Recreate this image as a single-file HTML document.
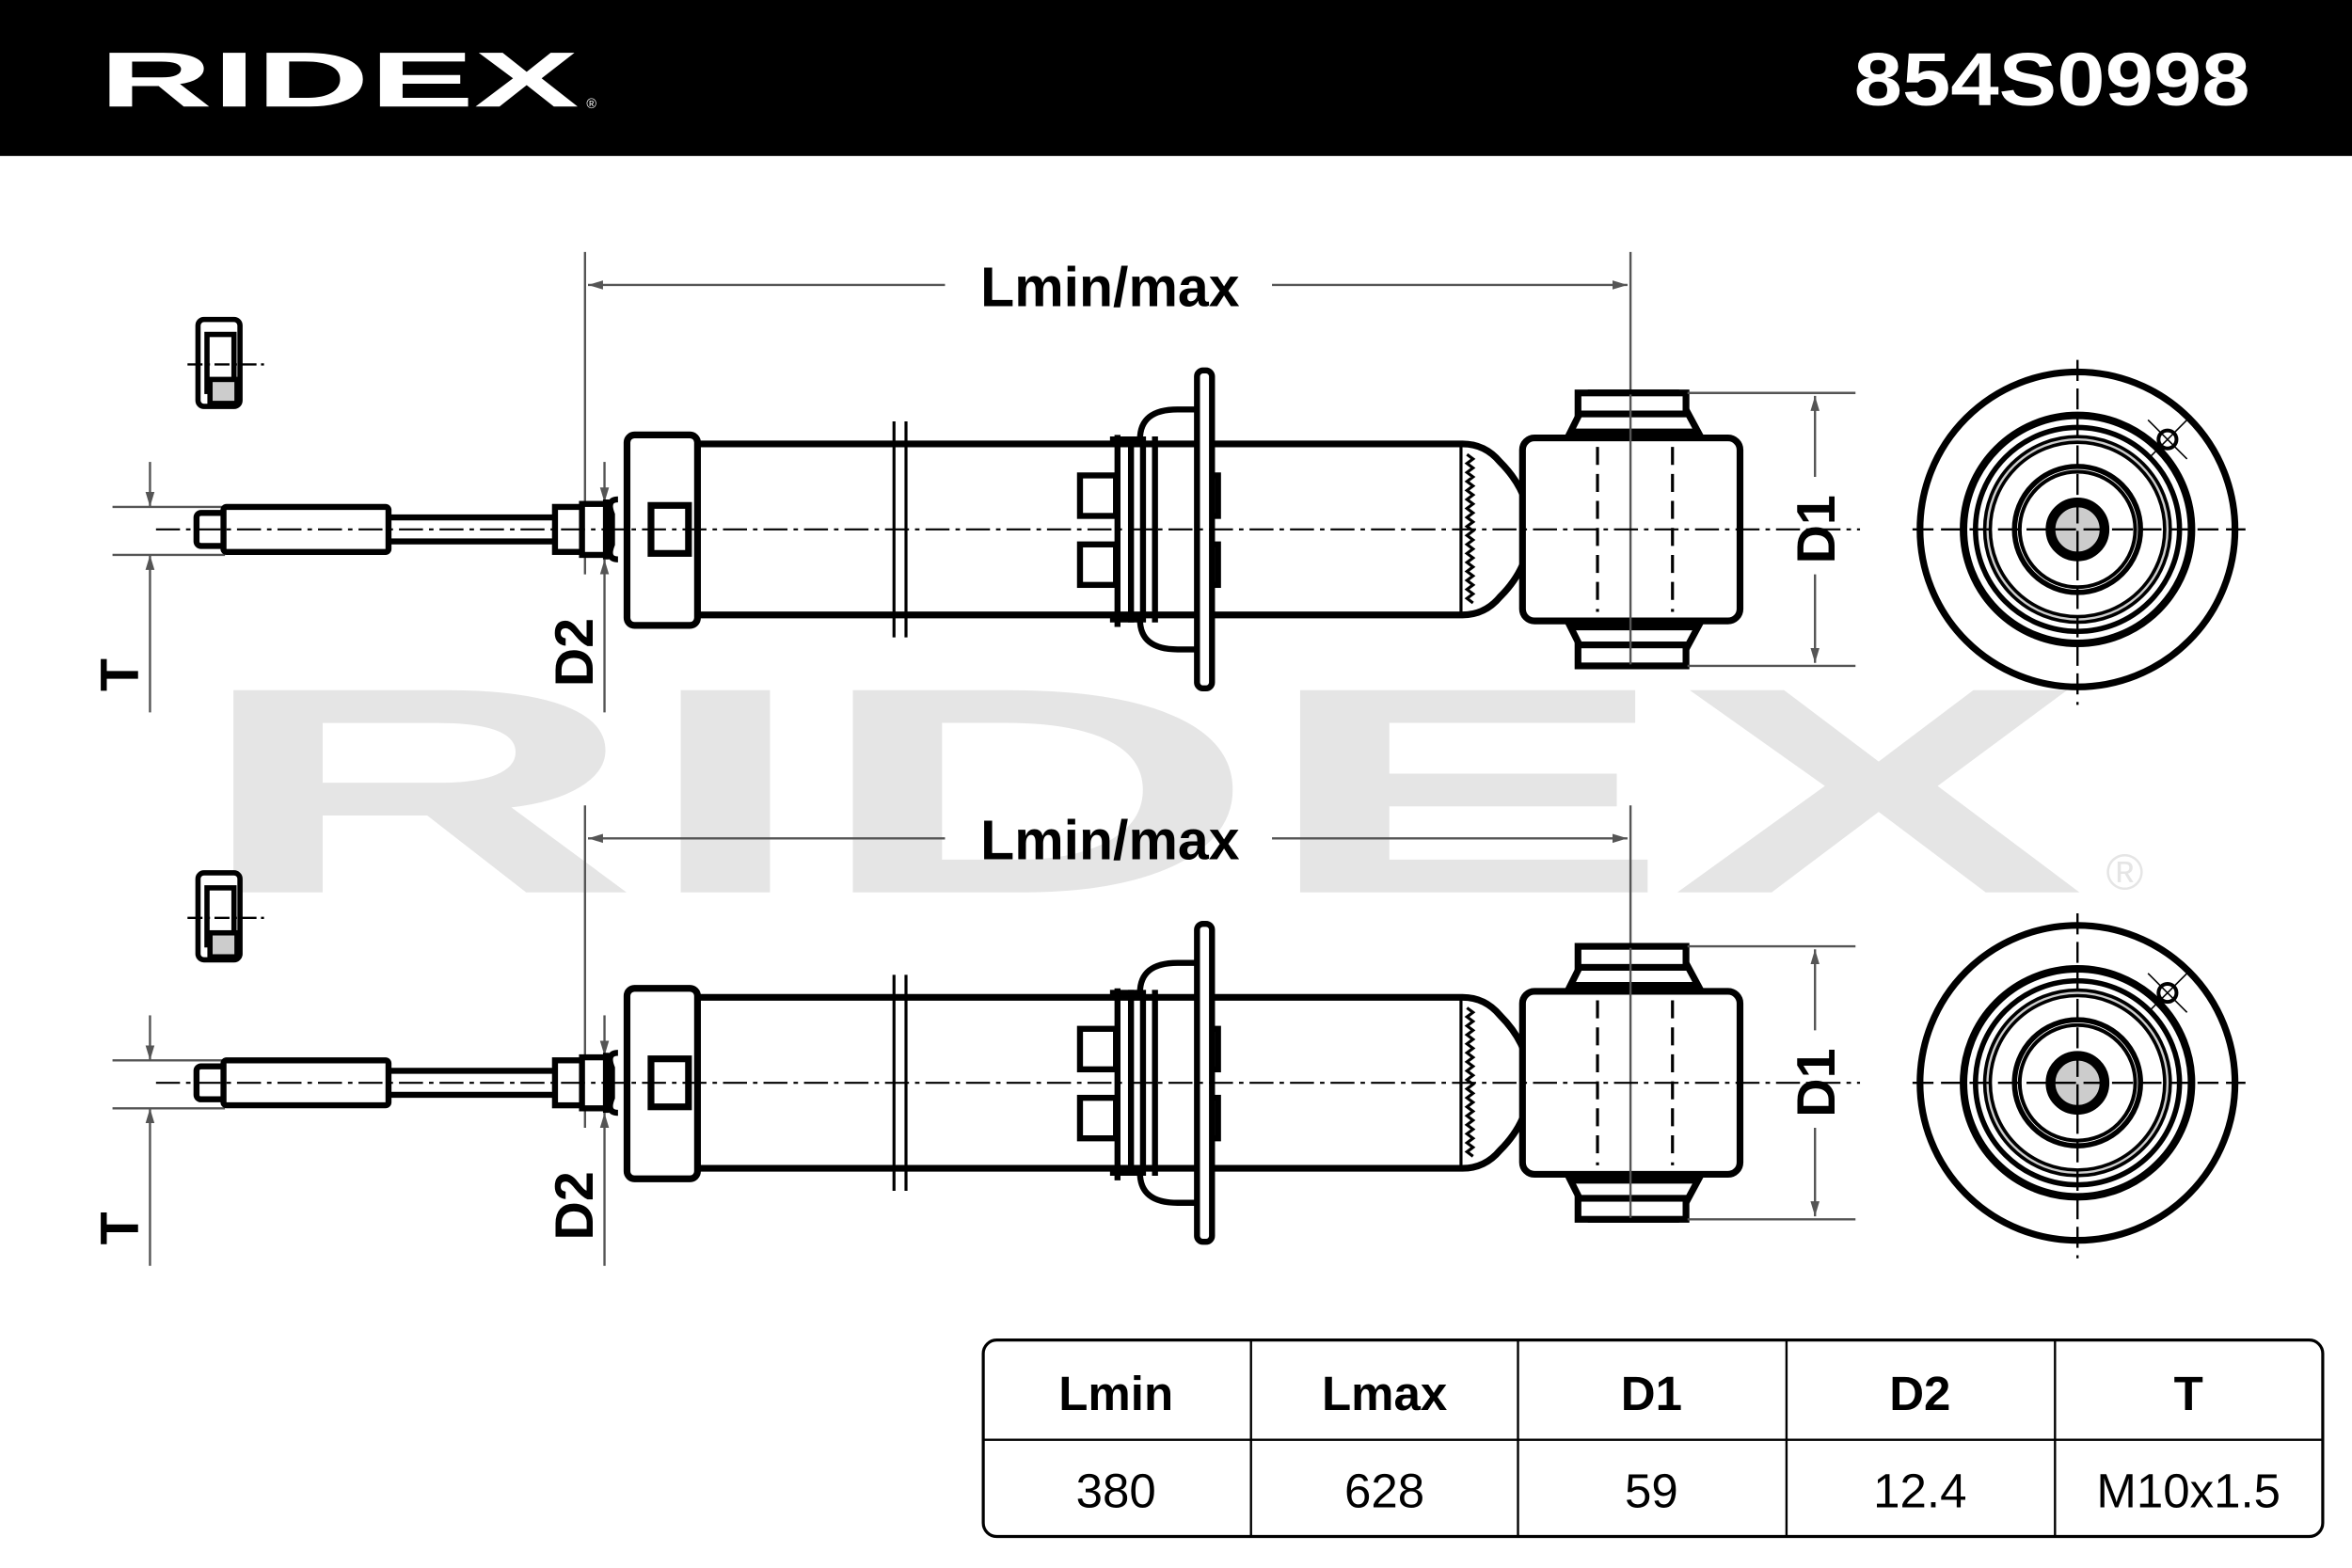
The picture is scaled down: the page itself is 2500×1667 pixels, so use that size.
<!DOCTYPE html>
<html><head><meta charset="utf-8"><style>
html,body{margin:0;padding:0;background:#fff;overflow:hidden;width:2500px;height:1667px;}
svg{display:block;}
text{font-family:"Liberation Sans",sans-serif;}
</style></head><body>
<svg width="2500" height="1667" viewBox="0 0 1568 1045.5" preserveAspectRatio="none" xmlns="http://www.w3.org/2000/svg">
<defs>
<marker id="ar" viewBox="0 0 10 10" refX="10" refY="5" markerWidth="10" markerHeight="10" markerUnits="userSpaceOnUse" orient="auto-start-reverse"><path d="M0,2 L10,5 L0,8 Z" fill="#555"/></marker>
<g id="shock">
  <g stroke="#000" stroke-width="3.5" fill="#fff">
    <rect x="132" y="-140" width="28" height="58" rx="4"/>
    <rect x="138" y="-130" width="18" height="38" fill="#fff"/>
    <rect x="140" y="-100" width="18" height="16" fill="#ccc"/>
  </g>
  <line x1="125" y1="-110" x2="176" y2="-110" stroke="#000" stroke-width="1.5" stroke-dasharray="10,3,2,3"/>
  <g stroke="#555" stroke-width="1.5">
    <line x1="75" y1="-15" x2="150" y2="-15"/>
    <line x1="75" y1="17" x2="150" y2="17"/>
    <line x1="100" y1="-45" x2="100" y2="-15" marker-end="url(#ar)"/>
    <line x1="100" y1="122" x2="100" y2="17" marker-end="url(#ar)"/>
  </g>
  <text transform="translate(92,97) rotate(-90)" font-size="36" font-weight="bold" fill="#000" text-anchor="middle">T</text>
  <g stroke="#555" stroke-width="1.5">
    <line x1="403" y1="-45" x2="403" y2="-18" marker-end="url(#ar)"/>
    <line x1="403" y1="122" x2="403" y2="20" marker-end="url(#ar)"/>
  </g>
  <text transform="translate(395,82) rotate(-90)" font-size="36" font-weight="bold" fill="#000" text-anchor="middle">D2</text>
  <g stroke="#555" stroke-width="1.5">
    <line x1="390" y1="-185" x2="390" y2="30"/>
    <line x1="1087" y1="-185" x2="1087" y2="-90"/>
    <line x1="392" y1="-163" x2="630" y2="-163" marker-start="url(#ar)"/>
    <line x1="848" y1="-163" x2="1085" y2="-163" marker-end="url(#ar)"/>
  </g>
  <text x="740" y="-149" font-size="37" font-weight="bold" fill="#000" text-anchor="middle">Lmin/max</text>
  <g stroke="#000" stroke-width="4" fill="#fff">
    <rect x="258" y="-8" width="114" height="16"/>
    <rect x="131" y="-11" width="20" height="22" rx="3"/>
    <rect x="149" y="-15" width="110" height="30" rx="2"/>
    <rect x="370" y="-15" width="19" height="30"/>
    <rect x="388" y="-17" width="16" height="34"/>
    <path d="M404,-20 L404,20 M412,-20 Q404,-20 408,-10 L408,10 Q404,20 412,20"/>
  </g>
  <g stroke="#000" stroke-width="4.5" fill="#fff">
    <path d="M465,-57 L975,-57 Q990,-57 1000,-45 Q1020,-25 1020,0 Q1020,25 1000,45 Q990,57 975,57 L465,57 Z"/>
    <rect x="418" y="-63" width="47" height="127" rx="5"/>
    <rect x="434" y="-16" width="25" height="32"/>
  </g>
  <g stroke="#000" stroke-width="2" fill="none">
    <line x1="974" y1="-55" x2="974" y2="55"/>
    <path d="M978,-50 l4,3 l-4,3 l4,3 l-4,3 l4,3 l-4,3 l4,3 l-4,3 l4,3 l-4,3 l4,3 l-4,3 l4,3 l-4,3 l4,3 l-4,3 l4,3 l-4,3 l4,3 l-4,3 l4,3 l-4,3 l4,3 l-4,3 l4,3 l-4,3 l4,3 l-4,3 l4,3 l-4,3 l4,3 l-4,3 l4,3"/>
    <line x1="596" y1="-72" x2="596" y2="72"/>
    <line x1="604" y1="-72" x2="604" y2="72"/>
  </g>
  <g stroke="#000" stroke-width="4" fill="#fff">
    <rect x="720" y="-36" width="24" height="27"/>
    <rect x="720" y="10" width="24" height="27"/>
    <rect x="800" y="-36" width="12" height="27"/>
    <rect x="800" y="10" width="12" height="27"/>
    <path d="M745,-63 L745,65 M754,-62 L754,62 M762,-62 L762,62 M770,-62 L770,62"/>
    <path d="M740,-60 L760,-60 Q760,-80 785,-80 L800,-80 M740,60 L760,60 Q760,80 785,80 L800,80" fill="none"/>
    <rect x="798" y="-106" width="10" height="212" rx="4"/>
  </g>
  <g stroke="#000" stroke-width="4.5" fill="#fff">
    <path d="M1060,-91 L1047,-65 L1132,-65 L1118,-91 Z"/>
    <path d="M1060,91 L1047,65 L1132,65 L1118,91 Z"/>
    <rect x="1052" y="-91" width="72" height="14"/>
    <rect x="1052" y="77" width="72" height="14"/>
    <rect x="1015" y="-61" width="145" height="122" rx="8"/>
  </g>
  <g stroke="#000" stroke-width="2" stroke-dasharray="12,6">
    <line x1="1065" y1="-55" x2="1065" y2="55"/>
    <line x1="1115" y1="-55" x2="1115" y2="55"/>
  </g>
  <line x1="1087" y1="-90" x2="1087" y2="90" stroke="#555" stroke-width="1.5"/>
  <g stroke="#555" stroke-width="1.5">
    <line x1="1125" y1="-91" x2="1237" y2="-91"/>
    <line x1="1125" y1="91" x2="1237" y2="91"/>
    <line x1="1210" y1="-35" x2="1210" y2="-89" marker-end="url(#ar)"/>
    <line x1="1210" y1="30" x2="1210" y2="89" marker-end="url(#ar)"/>
  </g>
  <text transform="translate(1223,0) rotate(-90)" font-size="36" font-weight="bold" fill="#000" text-anchor="middle">D1</text>
  <line x1="104" y1="0" x2="1240" y2="0" stroke="#000" stroke-width="1.3" stroke-dasharray="16,4,3,4"/>
  <g fill="none" stroke="#000">
    <circle cx="1385" cy="0" r="105" stroke-width="4.5"/>
    <circle cx="1385" cy="0" r="76" stroke-width="5"/>
    <circle cx="1385" cy="0" r="68" stroke-width="3.5"/>
    <circle cx="1385" cy="0" r="60" stroke-width="6"/>
    <circle cx="1385" cy="0" r="60" stroke-width="1.5" stroke="#ccc"/>
    <circle cx="1385" cy="0" r="42" stroke-width="3.5"/>
    <circle cx="1385" cy="0" r="38.5" stroke-width="2.5"/>
    <circle cx="1385" cy="0" r="18" stroke-width="6.5" fill="#ccc"/>
    <circle cx="1445" cy="-60" r="6" stroke-width="2.5"/>
    <line x1="1432" y1="-47" x2="1458" y2="-73" stroke-width="1"/>
    <line x1="1432" y1="-73" x2="1458" y2="-47" stroke-width="1"/>
  </g>
  <g stroke="#000" stroke-width="1.5" stroke-dasharray="14,5">
    <line x1="1385" y1="-113" x2="1385" y2="117"/>
    <line x1="1275" y1="0" x2="1497" y2="0"/>
  </g>
</g>
</defs>
<rect x="0" y="0" width="1568" height="1046" fill="#fff"/>
<rect x="0" y="0" width="1568" height="104" fill="#000"/>
<text x="66" y="71" font-size="52" font-weight="bold" fill="#fff" textLength="320" lengthAdjust="spacingAndGlyphs">RIDEX</text>
<text x="391" y="72" font-size="9" fill="#fff">®</text>
<text x="1236" y="70" font-size="50" font-weight="bold" fill="#fff" textLength="264" lengthAdjust="spacingAndGlyphs">854S0998</text>
<text x="128" y="595" font-size="196" font-weight="bold" fill="#e5e5e5" textLength="1262" lengthAdjust="spacingAndGlyphs">RIDEX</text>
<text x="1404" y="593" font-size="34" fill="#e5e5e5">®</text>
<use href="#shock" transform="translate(0,353)"/>
<use href="#shock" transform="translate(0,722)"/>
<g>
<rect x="655.5" y="893.5" width="893" height="131" rx="9" fill="#fff" stroke="#000" stroke-width="2"/>
<line x1="655" y1="960" x2="1548" y2="960" stroke="#000" stroke-width="1.5"/>
<g stroke="#000" stroke-width="1.5">
<line x1="834" y1="894" x2="834" y2="1024"/><line x1="1012" y1="894" x2="1012" y2="1024"/>
<line x1="1191" y1="894" x2="1191" y2="1024"/><line x1="1370" y1="894" x2="1370" y2="1024"/>
</g>
<g font-size="32" font-weight="bold" text-anchor="middle" fill="#000">
<text x="744" y="940">Lmin</text><text x="923" y="940">Lmax</text><text x="1101" y="940">D1</text><text x="1280" y="940">D2</text><text x="1459" y="940">T</text>
</g>
<g font-size="32" text-anchor="middle" fill="#000">
<text x="744" y="1005">380</text><text x="923" y="1005">628</text><text x="1101" y="1005">59</text><text x="1280" y="1005">12.4</text><text x="1459" y="1005">M10x1.5</text>
</g>
</g>
</svg>
</body></html>
